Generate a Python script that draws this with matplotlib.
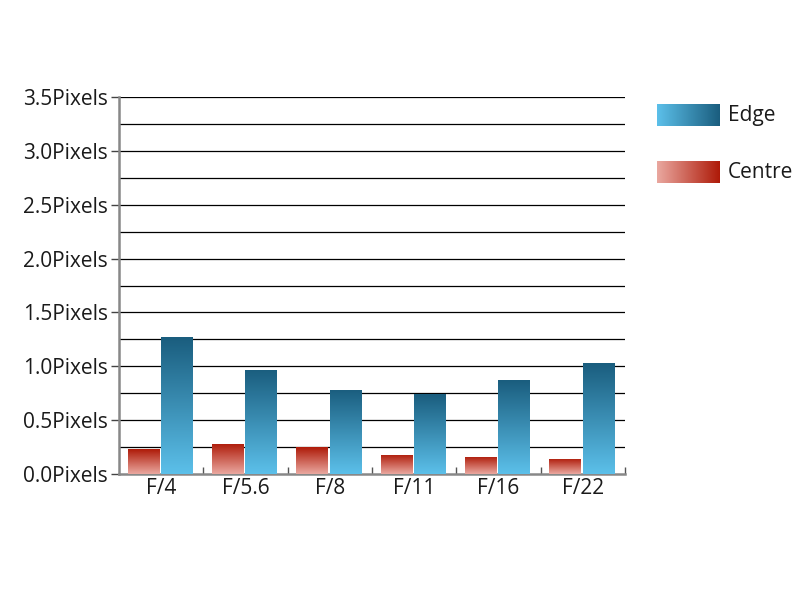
import numpy as np
import matplotlib
matplotlib.use("Agg")
import matplotlib.pyplot as plt
from matplotlib.colors import LinearSegmentedColormap

categories = ["F/4", "F/5.6", "F/8", "F/11", "F/16", "F/22"]
centre = [0.23, 0.28, 0.25, 0.18, 0.16, 0.14]
edge = [1.27, 0.97, 0.78, 0.74, 0.87, 1.03]
series_names = ["Edge", "Centre"]
ytick_vals = [0.0, 0.5, 1.0, 1.5, 2.0, 2.5, 3.0, 3.5]
ytick_labels = ["%.1fPixels" % v for v in ytick_vals]

plt.rcParams['font.family'] = ['Open Sans', 'DejaVu Sans']

edge_cmap = LinearSegmentedColormap.from_list("edge", ["#5cc0ea", "#1a5d7e"])
centre_cmap = LinearSegmentedColormap.from_list("centre", ["#eaa8a0", "#ae1a08"])

fig = plt.figure(figsize=(8, 6), dpi=100)
ax = fig.add_axes([119/800, 126/600, (625-119)/800, (474-97)/600])

x = np.arange(len(categories))
w = 0.368
bc = ax.bar(x - 0.213, centre, width=w, facecolor='none', edgecolor='none', zorder=3)
be = ax.bar(x + 0.182, edge, width=w, facecolor='none', edgecolor='none', zorder=3)

grad = np.linspace(0, 1, 256).reshape(-1, 1)
for bars, cmap in ((bc, centre_cmap), (be, edge_cmap)):
    for b in bars:
        x0, y0 = b.get_x(), b.get_y()
        bw, bh = b.get_width(), b.get_height()
        im = ax.imshow(grad, cmap=cmap, origin='lower', aspect='auto',
                       extent=[x0, x0 + bw, y0, y0 + bh], zorder=3, interpolation='bilinear')
        im.set_clip_path(b)

ax.set_xlim(-0.5, len(categories) - 0.5)
ax.set_ylim(0, 3.5)

# gridlines every 0.25
for gy in np.arange(0.25, 3.51, 0.25):
    ax.axhline(gy, color='black', linewidth=0.9, zorder=1)

ax.set_yticks(ytick_vals)
ax.set_yticklabels(ytick_labels, fontsize=15, color='#1a1a1a')
ax.tick_params(axis='y', direction='out', length=6, width=1, color='#444444', pad=2)

ax.set_xticks(x)
ax.set_xticklabels(categories, fontsize=15, color='#1a1a1a')
ax.tick_params(axis='x', length=0, pad=3)
ax.set_xticks(np.arange(0.5, len(categories), 1), minor=True)
ax.tick_params(axis='x', which='minor', direction='in', length=5, width=1, color='#555555')

for s in ['top', 'right']:
    ax.spines[s].set_visible(False)
for s in ['left', 'bottom']:
    ax.spines[s].set_color('#888888')
    ax.spines[s].set_linewidth(1.8)

# legend
lg = fig.add_axes([0, 0, 1, 1], zorder=5)
lg.set_xlim(0, 800)
lg.set_ylim(600, 0)
lg.axis('off')
hgrad = np.linspace(0, 1, 256).reshape(1, -1)
for i, (name, cmap) in enumerate(zip(series_names, (edge_cmap, centre_cmap))):
    top = 104 + i * 57
    lg.imshow(hgrad, cmap=cmap, aspect='auto', extent=[657, 720, top + 22, top], interpolation='bilinear')
    lg.text(728, top + 12, name, fontsize=15, va='center', ha='left', color='#1a1a1a')
lg.set_xlim(0, 800)
lg.set_ylim(600, 0)

fig.savefig("out.png", dpi=100)
